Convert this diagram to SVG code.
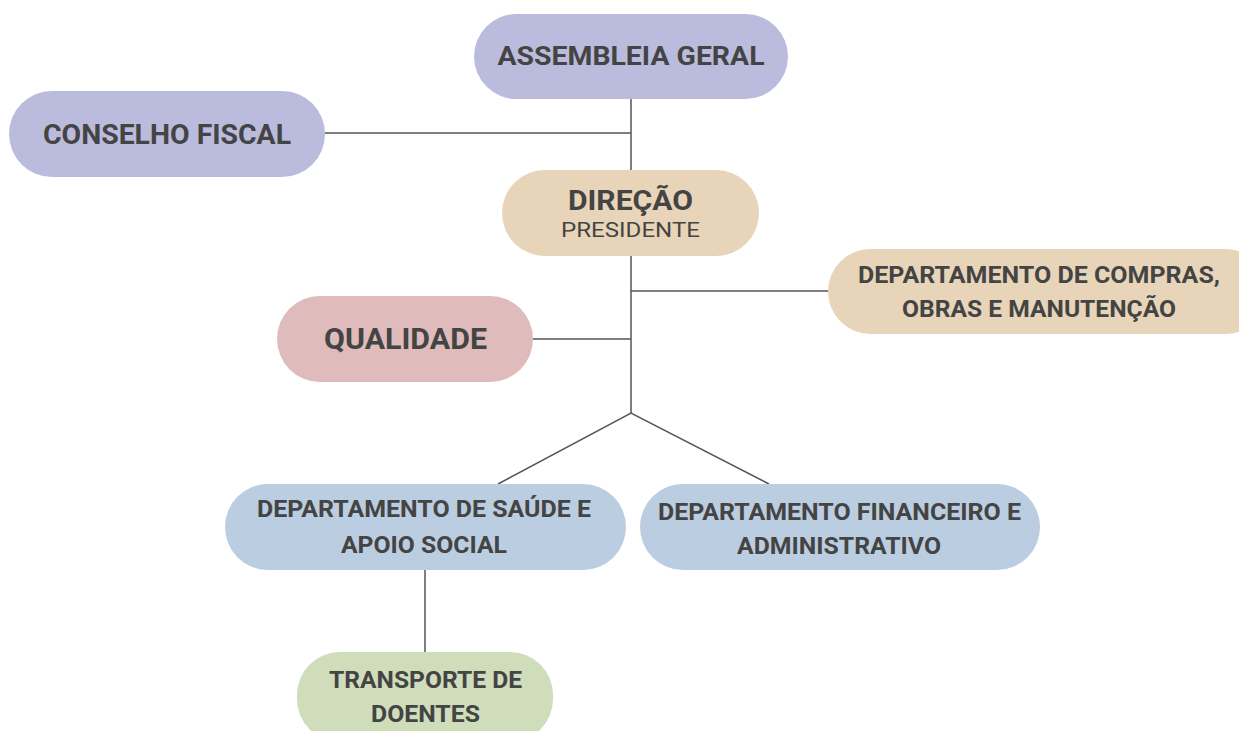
<svg xmlns="http://www.w3.org/2000/svg" width="1239" height="731" viewBox="0 0 1239 731">
<style>
.b{font-family:Roboto,"Liberation Sans",sans-serif;font-weight:700;fill:#444444;text-anchor:middle}
.r{font-family:Roboto,"Liberation Sans",sans-serif;font-weight:400;fill:#444444;text-anchor:middle}
.c{stroke:#555555;stroke-width:1.5;fill:none}
</style>
<rect width="1239" height="731" fill="#ffffff"/>
<g id="connectors" class="c">
<line x1="631" y1="99" x2="631" y2="170"/>
<line x1="325" y1="133" x2="631" y2="133"/>
<line x1="631" y1="256" x2="631" y2="413"/>
<line x1="631" y1="291" x2="829" y2="291"/>
<line x1="533" y1="339" x2="631" y2="339"/>
<polyline points="498,484 631,413 769,484"/>
<line x1="425" y1="570" x2="425" y2="652"/>
</g>
<g id="assembleia">
<rect x="474" y="14" width="314" height="85" rx="42.5" fill="#BBBBDD"/>
<text class="b" x="631" y="65" font-size="26" textLength="267" lengthAdjust="spacingAndGlyphs">ASSEMBLEIA GERAL</text>
</g>
<g id="conselho">
<rect x="9" y="91" width="316" height="86" rx="43" fill="#BBBBDD"/>
<text class="b" x="167" y="144" font-size="27" textLength="248" lengthAdjust="spacingAndGlyphs">CONSELHO FISCAL</text>
</g>
<g id="direcao">
<rect x="502" y="170" width="257" height="86" rx="43" fill="#E8D5B9"/>
<text class="b" x="630.5" y="210" font-size="28" textLength="125" lengthAdjust="spacingAndGlyphs">DIREÇÃO</text>
<text class="r" x="630.5" y="237" font-size="20" textLength="139" lengthAdjust="spacingAndGlyphs">PRESIDENTE</text>
</g>
<g id="compras">
<rect x="828" y="249" width="440" height="85" rx="42.5" fill="#E8D5B9"/>
<text class="b" x="1039" y="283" font-size="24" textLength="362" lengthAdjust="spacingAndGlyphs">DEPARTAMENTO DE COMPRAS,</text>
<text class="b" x="1039" y="317" font-size="24" textLength="274" lengthAdjust="spacingAndGlyphs">OBRAS E MANUTENÇÃO</text>
</g>
<g id="qualidade">
<rect x="277" y="296" width="256" height="86" rx="43" fill="#DFBBBB"/>
<text class="b" x="405.5" y="349" font-size="29" textLength="163" lengthAdjust="spacingAndGlyphs">QUALIDADE</text>
</g>
<g id="saude">
<rect x="225" y="484" width="401" height="86" rx="43" fill="#BBCDE0"/>
<text class="b" x="424" y="517" font-size="23" textLength="334" lengthAdjust="spacingAndGlyphs">DEPARTAMENTO DE SAÚDE E</text>
<text class="b" x="424" y="553" font-size="23" textLength="166" lengthAdjust="spacingAndGlyphs">APOIO SOCIAL</text>
</g>
<g id="financeiro">
<rect x="640" y="484" width="400" height="86" rx="43" fill="#BBCDE0"/>
<text class="b" x="839.5" y="520" font-size="23" textLength="363" lengthAdjust="spacingAndGlyphs">DEPARTAMENTO FINANCEIRO E</text>
<text class="b" x="839" y="554" font-size="23" textLength="204" lengthAdjust="spacingAndGlyphs">ADMINISTRATIVO</text>
</g>
<g id="transporte">
<rect x="297" y="652" width="256" height="90" rx="43" fill="#CFDDBB"/>
<text class="b" x="425.5" y="688" font-size="23" textLength="193" lengthAdjust="spacingAndGlyphs">TRANSPORTE DE</text>
<text class="b" x="425.5" y="722" font-size="23" textLength="109" lengthAdjust="spacingAndGlyphs">DOENTES</text>
</g>
</svg>
